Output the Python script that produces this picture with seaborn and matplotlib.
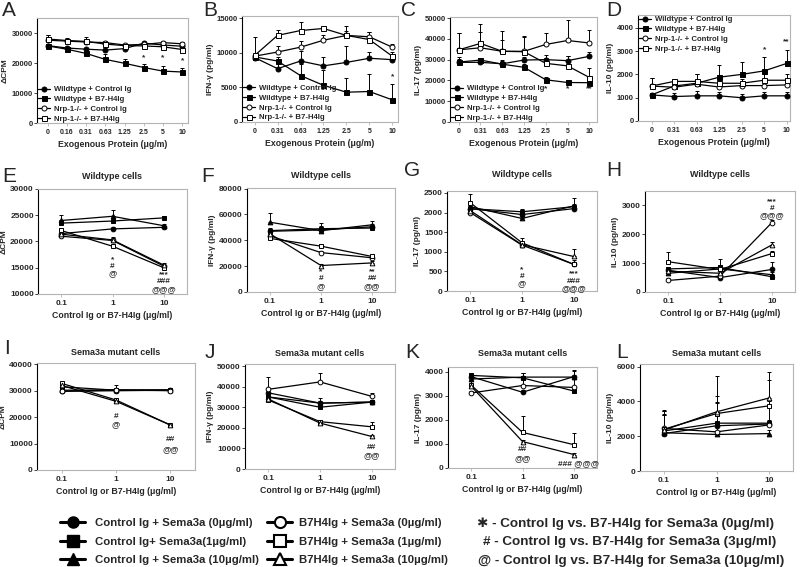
import numpy as np
import pandas as pd
import matplotlib
matplotlib.use('Agg')
import matplotlib.pyplot as plt
import seaborn as sns
from matplotlib.lines import Line2D

# ---------------- data ----------------
# top row: x categories
dose_a = ['0', '0.16', '0.31', '0.63', '1.25', '2.5', '5', '10']
dose_bcd = ['0', '0.31', '0.63', '1.25', '2.5', '5', '10']
top_names = ['Wildtype + Control Ig', 'Wildtype + B7-H4Ig',
             'Nrp-1-/- + Control Ig', 'Nrp-1-/- + B7-H4Ig']

# rows: wt ctrl, wt b7, nrp ctrl, nrp b7
a_vals = [[25800, 25000, 24600, 24300, 24800, 26600, 26000, 25600],
          [25700, 24600, 23200, 21200, 19900, 18500, 17300, 17000],
          [27600, 27300, 27000, 26800, 26000, 26200, 26800, 26400],
          [28000, 27500, 27200, 26300, 25800, 25700, 25400, 24500]]
a_err = [[500, 400, 400, 400, 400, 500, 400, 400],
         [400, 500, 600, 1800, 1500, 1100, 1600, 1300],
         [1800, 600, 1700, 700, 400, 500, 500, 600],
         [1300, 700, 700, 700, 500, 600, 700, 800]]
a_notes = [('*', 5, 21700), ('*', 6, 21600), ('*', 7, 20800)]

b_vals = [[9300, 7700, 8800, 8100, 8600, 9200, 9000],
          [9400, 8800, 6700, 5300, 4300, 4400, 3200],
          [9500, 10100, 10800, 11800, 12500, 12300, 10800],
          [9600, 12500, 13200, 13500, 12500, 11900, 9500]]
b_err = [[0, 900, 1400, 1300, 2400, 900, 500],
         [0, 600, 1600, 2200, 2000, 2500, 2300],
         [0, 900, 900, 700, 600, 700, 500],
         [2700, 800, 1200, 200, 1300, 1100, 600]]
b_notes = [('*', 6, 6500)]

c_vals = [[28700, 28700, 28000, 29800, 30000, 29500, 31600],
          [28800, 29800, 27800, 26300, 20300, 19000, 18900],
          [34700, 35700, 34000, 34000, 37300, 39200, 38000],
          [34700, 37800, 34000, 33800, 28200, 27000, 21400]]
c_err = [[2500, 1200, 1200, 1500, 2000, 2300, 2200],
         [1500, 1000, 1800, 1800, 1200, 1000, 1000],
         [8000, 7800, 5500, 7000, 5500, 9800, 6200],
         [8000, 9300, 9600, 7600, 2500, 4800, 4600]]
c_notes = [('*', 4, 15800), ('*', 5, 15800), ('**', 6, 15800)]

d_vals = [[1120, 1050, 1080, 1080, 1000, 1080, 1080],
          [1120, 1500, 1620, 1880, 2000, 2150, 2470],
          [1500, 1450, 1580, 1460, 1520, 1520, 1550],
          [1500, 1700, 1700, 1620, 1620, 1750, 1750]]
d_err = [[100, 150, 220, 150, 150, 150, 150],
         [100, 200, 380, 520, 550, 600, 580],
         [350, 120, 150, 150, 150, 150, 150],
         [350, 100, 300, 200, 200, 250, 250]]
d_notes = [('*', 5, 3050), ('**', 6, 3400)]

# middle / bottom rows
conc = [0.1, 1, 10]
# rows: ctrl+S0, ctrl+S1, ctrl+S10, b7+S0, b7+S1, b7+S10
e_vals = [[21500, 22400, 22700], [23500, 23900, 24500], [24000, 24800, 23000],
          [21000, 20200, 15300], [22100, 19100, 15000], [21400, 20300, 15500]]
e_err = [[400, 400, 300], [500, 600, 400], [1000, 1200, 300],
         [500, 400, 300], [500, 400, 400], [700, 600, 400]]
e_notes = [('*', 1, 16500), ('#', 1, 15200), ('@', 1, 13800),
           ('***', 10, 13700), ('###', 10, 12300), ('@@@', 10, 10900)]

f_vals = [[47000, 48000, 50500], [47500, 49000, 49500], [54000, 47500, 52000],
          [43500, 30500, 26500], [41500, 35500, 27500], [45000, 20500, 22500]]
f_err = [[2000, 2000, 2000], [2000, 2000, 2000], [7500, 6000, 3000],
         [1500, 1500, 1500], [1500, 1500, 1500], [1500, 1500, 1500]]
f_notes = [('*', 1, 16000), ('#', 1, 10500), ('@', 1, 3800),
           ('**', 10, 16000), ('##', 10, 10500), ('@@', 10, 3800)]

g_vals = [[2100, 1950, 2100], [2100, 2020, 2150], [2150, 1850, 2170],
          [2000, 1170, 680], [2250, 1230, 680], [2050, 1180, 880]]
g_err = [[60, 60, 60], [60, 60, 220], [60, 60, 60],
         [60, 60, 60], [230, 120, 100], [60, 60, 180]]
g_notes = [('*', 1, 540), ('#', 1, 370), ('@', 1, 190),
           ('***', 10, 430), ('###', 10, 250), ('@@@', 10, 70)]

h_vals = [[750, 500, 780], [800, 850, 530], [650, 800, 600],
          [400, 550, 2400], [1050, 780, 1330], [720, 650, 1630]]
h_err = [[80, 80, 250], [80, 80, 80], [80, 80, 80],
         [100, 80, 80], [350, 370, 80], [100, 80, 100]]
h_notes = [('***', 10, 3120), ('#', 10, 2890), ('@@@', 10, 2640)]

i_vals = [[29800, 30000, 30200], [31500, 30200, 30300], [30200, 30300, 30300],
          [29800, 30300, 30000], [32800, 26500, 17000], [32000, 26000, 17000]]
i_err = [[500, 500, 500], [500, 500, 500], [500, 500, 500],
         [500, 1800, 500], [500, 500, 500], [500, 500, 500]]
i_notes = [('#', 1, 20300), ('@', 1, 17200), ('##', 10, 11700), ('@@', 10, 7900)]

j_vals = [[37000, 32000, 32500], [35000, 30000, 32500], [35000, 32000, 32500],
          [38700, 42300, 35300], [33500, 23000, 20500], [34000, 22300, 15800]]
j_err = [[800, 2500, 800], [800, 800, 800], [800, 800, 800],
         [6000, 4500, 1500], [800, 800, 2300], [500, 500, 500]]
j_notes = [('##', 10, 10500), ('@@', 10, 6700)]

k_vals = [[3800, 3150, 3800], [3850, 3750, 3200], [3700, 3780, 3780],
          [3120, 3430, 3350], [3450, 1480, 970], [3400, 1100, 560]]
k_err = [[80, 80, 80], [80, 80, 80], [80, 180, 280],
         [80, 500, 700], [200, 700, 480], [80, 80, 80]]
k_notes = [('##', 1, 760), ('@@', 1, 410), ('### @@@', 12.5, 180)]

l_vals = [[2150, 2600, 2700], [2300, 2750, 2750], [2200, 2100, 2150],
          [2450, 2250, 2650], [2400, 3300, 3750], [2350, 3400, 4200]]
l_err = [[1100, 1300, 200], [900, 1200, 200], [1000, 600, 200],
         [1000, 900, 1400], [1100, 1000, 1500], [1100, 2050, 1500]]
l_notes = []

legend_left = ['Control Ig + Sema3a (0µg/ml)', 'Control Ig+ Sema3a(1µg/ml)',
               'Control Ig + Sema3a (10µg/ml)']
legend_mid = ['B7H4Ig + Sema3a (0µg/ml)', 'B7H4Ig + Sema3a (1µg/ml)',
              'B7H4Ig + Sema3a (10µg/ml)']
legend_right = ['\u2731 - Control Ig vs. B7-H4Ig for Sema3a (0\u03bcg/ml)',
                '# - Control Ig vs. B7-H4Ig for Sema3a (3\u03bcg/ml)',
                '@ - Control Ig vs. B7-H4Ig for Sema3a (10\u03bcg/ml)']

# ---------------- style ----------------
sns.set_theme(style='white')
plt.rcParams['font.family'] = ['Liberation Sans', 'DejaVu Sans']
plt.rcParams['font.weight'] = 'bold'
plt.rcParams['axes.labelweight'] = 'bold'

top_markers = ['o', 's', 'o', 's']
top_faces = ['black', 'black', 'white', 'white']
low_markers = ['o', 's', '^', 'o', 's', '^']
low_faces = ['black', 'black', 'black', 'white', 'white', 'white']

W, H = 800, 567
fig = plt.figure(figsize=(8, 5.67), dpi=100)


def add_ax(l, t, r, b):
    return fig.add_axes([l / W, 1 - b / H, (r - l) / W, (b - t) / H])


def style_ax(ax, tick_fs, xtick_fs):
    for s in ['top', 'right', 'bottom']:
        ax.spines[s].set_color('#b4b4b4')
        ax.spines[s].set_linewidth(0.8)
    ax.spines['left'].set_color('black')
    ax.spines['left'].set_linewidth(0.8)
    ax.tick_params(axis='y', left=True, length=2, width=0.6, labelsize=tick_fs, pad=1)
    ax.tick_params(axis='x', bottom=True, length=2, width=0.6, color='#b4b4b4',
                   labelsize=xtick_fs, pad=2)
    ax.minorticks_off()


def draw_series(ax, x, vals, errs, markers, faces, names=None, ms=3.6):
    for i, (v, e) in enumerate(zip(vals, errs)):
        df = pd.DataFrame({'x': x, 'y': v})
        ax.errorbar(df['x'], df['y'], yerr=[np.zeros(len(e)), e], fmt='none',
                    ecolor='black', elinewidth=0.7, capsize=1.6, capthick=0.7, zorder=2)
        sns.lineplot(data=df, x='x', y='y', ax=ax, color='black', lw=0.9,
                     marker=markers[i], markersize=ms, markerfacecolor=faces[i],
                     markeredgecolor='black', markeredgewidth=0.7, legend=False,
                     label=names[i] if names else None, zorder=3)


def top_panel(rect, doses, vals, errs, notes, ylabel, ylim, yticks, xlim, leg_anchor, xlabel):
    ax = add_ax(*rect)
    pos = np.arange(len(doses))
    draw_series(ax, pos, vals, errs, top_markers, top_faces, top_names, ms=3.6)
    for txt, xi, yv in notes:
        ax.text(xi, yv, txt, ha='center', va='center', fontsize=6, fontweight='bold')
    ax.set_xticks(pos)
    ax.set_xticklabels(doses)
    ax.set_xlim(*xlim)
    ax.set_ylim(*ylim)
    ax.set_yticks(yticks)
    ax.set_xlabel(xlabel, fontsize=6.3, labelpad=3)
    ax.set_ylabel(ylabel, fontsize=6, labelpad=2)
    style_ax(ax, 5.5, 5)
    ax.legend(loc='upper left', bbox_to_anchor=leg_anchor, frameon=False,
              prop={'size': 5.6, 'weight': 'bold'}, handlelength=1.6,
              handletextpad=0.5, labelspacing=0.3, borderpad=0.1, borderaxespad=0)
    return ax


def low_panel(rect, vals, errs, notes, ylabel, ylim, yticks, title, tpad):
    ax = add_ax(*rect)
    draw_series(ax, conc, vals, errs, low_markers, low_faces, ms=3.4)
    ax.set_xscale('log')
    for txt, xv, yv in notes:
        ax.text(xv, yv, txt, ha='center', va='center', fontsize=6, fontweight='bold')
    ax.set_xlim(0.1 / 10 ** 0.45, 10 * 10 ** 0.45)
    ax.set_xticks(conc)
    ax.set_xticklabels(['0.1', '1', '10'])
    ax.set_ylim(*ylim)
    ax.set_yticks(yticks)
    ax.set_xlabel('Control Ig or B7-H4Ig (\u03bcg/ml)', fontsize=6.3, labelpad=3)
    ax.set_ylabel(ylabel, fontsize=6, labelpad=2)
    ax.set_title(title, fontsize=6.5, fontweight='bold', pad=tpad)
    style_ax(ax, 6, 6)
    return ax


# ---------------- top row ----------------
top_panel((37, 18, 188, 123), dose_a, a_vals, a_err, a_notes, '\u0394CPM',
          (0, 35000), [0, 10000, 20000, 30000], (-0.55, 7.3), (0.0, 0.36),
          'Exogenous Protein (\u03bcg/m)')
top_panel((242, 16, 398, 122), dose_bcd, b_vals, b_err, b_notes, 'IFN-\u03b3 (pg/ml)',
          (0, 15300), [0, 5000, 10000, 15000], (-0.55, 6.25), (0.0, 0.36),
          'Exogenous Protein (\u03bcg/m)')
top_panel((450, 17, 597, 122), dose_bcd, c_vals, c_err, c_notes, 'IL-17 (pg/ml)',
          (0, 50500), np.arange(0, 50001, 10000), (-0.4, 6.35), (0.0, 0.36),
          'Exogenous Protein (\u03bcg/m)')
top_panel((638, 15, 790, 121), dose_bcd, d_vals, d_err, d_notes, 'IL-10 (pg/ml)',
          (0, 4550), np.arange(0, 4001, 1000), (-0.6, 6.15), (0.0, 1.0),
          'Exogenous Protein (\u03bcg/ml)')

# ---------------- middle row ----------------
low_panel((38, 189, 187, 294), e_vals, e_err, e_notes, '\u0394CPM', (10000, 30000),
          np.arange(10000, 30001, 5000), 'Wildtype cells', 7)
low_panel((247, 188, 395, 292), f_vals, f_err, f_notes, 'IFN-\u03b3 (pg/ml)', (0, 80500),
          np.arange(0, 80001, 20000), 'Wildtype cells', 7)
low_panel((447, 191, 597, 291), g_vals, g_err, g_notes, 'IL-17 (pg/ml)', (0, 2550),
          np.arange(0, 2501, 500), 'Wildtype cells', 10)
low_panel((645, 191, 795, 292), h_vals, h_err, h_notes, 'IL-10 (pg/ml)', (0, 3500),
          np.arange(0, 3001, 1000), 'Wildtype cells', 10)

# ---------------- bottom row ----------------
low_panel((37, 363, 195, 470), i_vals, i_err, i_notes, '\u0394CPM', (0, 40500),
          np.arange(0, 40001, 10000), 'Sema3a mutant cells', 6)
low_panel((245, 364, 395, 469), j_vals, j_err, j_notes, 'IFN-\u03b3 (pg/ml)', (0, 51000),
          np.arange(0, 50001, 10000), 'Sema3a mutant cells', 6)
low_panel((448, 367, 597, 468), k_vals, k_err, k_notes, 'IL-17 (pg/ml)', (0, 4200),
          np.arange(0, 4001, 1000), 'Sema3a mutant cells', 8)
low_panel((640, 364, 793, 471), l_vals, l_err, l_notes, 'IL-10 (pg/ml)', (0, 6150),
          np.arange(0, 6001, 2000), 'Sema3a mutant cells', 6)

# ---------------- panel letters ----------------
letters = ['A', 'B', 'C', 'D', 'E', 'F', 'G', 'H', 'I', 'J', 'K', 'L']
letter_xy = [(9, 11), (210, 11), (409, 11), (614, 11),
             (9, 177), (208, 177), (412, 170), (614, 170),
             (7, 349), (210, 352), (412, 352), (622, 352)]
for lt, (px, py) in zip(letters, letter_xy):
    fig.text(px / W, 1 - py / H, lt, ha='center', va='center', fontsize=15,
             fontweight='normal')

# ---------------- bottom legend ----------------
leg_font = {'family': ['Liberation Sans'], 'weight': 'bold', 'size': 8.2}
h_left = [Line2D([], [], color='black', lw=2.2, marker=m, markersize=8,
                 markerfacecolor='black', markeredgecolor='black')
          for m in ['o', 's', '^']]
h_mid = [Line2D([], [], color='black', lw=2.2, marker=m, markersize=8,
                markerfacecolor='white', markeredgecolor='black', markeredgewidth=1.5)
         for m in ['o', 's', '^']]
fig.legend(h_left, legend_left, loc='upper left', bbox_to_anchor=(60 / W, 1 - 518 / H),
           frameon=False, prop=leg_font, handlelength=2.2, handletextpad=0.9,
           labelspacing=0.75, borderpad=0, borderaxespad=0)
fig.legend(h_mid, legend_mid, loc='upper left', bbox_to_anchor=(267 / W, 1 - 518 / H),
           frameon=False, prop=leg_font, handlelength=2.2, handletextpad=0.6,
           labelspacing=0.75, borderpad=0, borderaxespad=0)
right_xy = [(477, 524), (483, 542), (478, 561)]
for txt, (px, py) in zip(legend_right, right_xy):
    fig.text(px / W, 1 - py / H, txt, ha='left', va='center', fontsize=9.7,
             fontweight='bold', family=['Liberation Sans', 'DejaVu Sans'])

fig.savefig('out.png', dpi=100)
